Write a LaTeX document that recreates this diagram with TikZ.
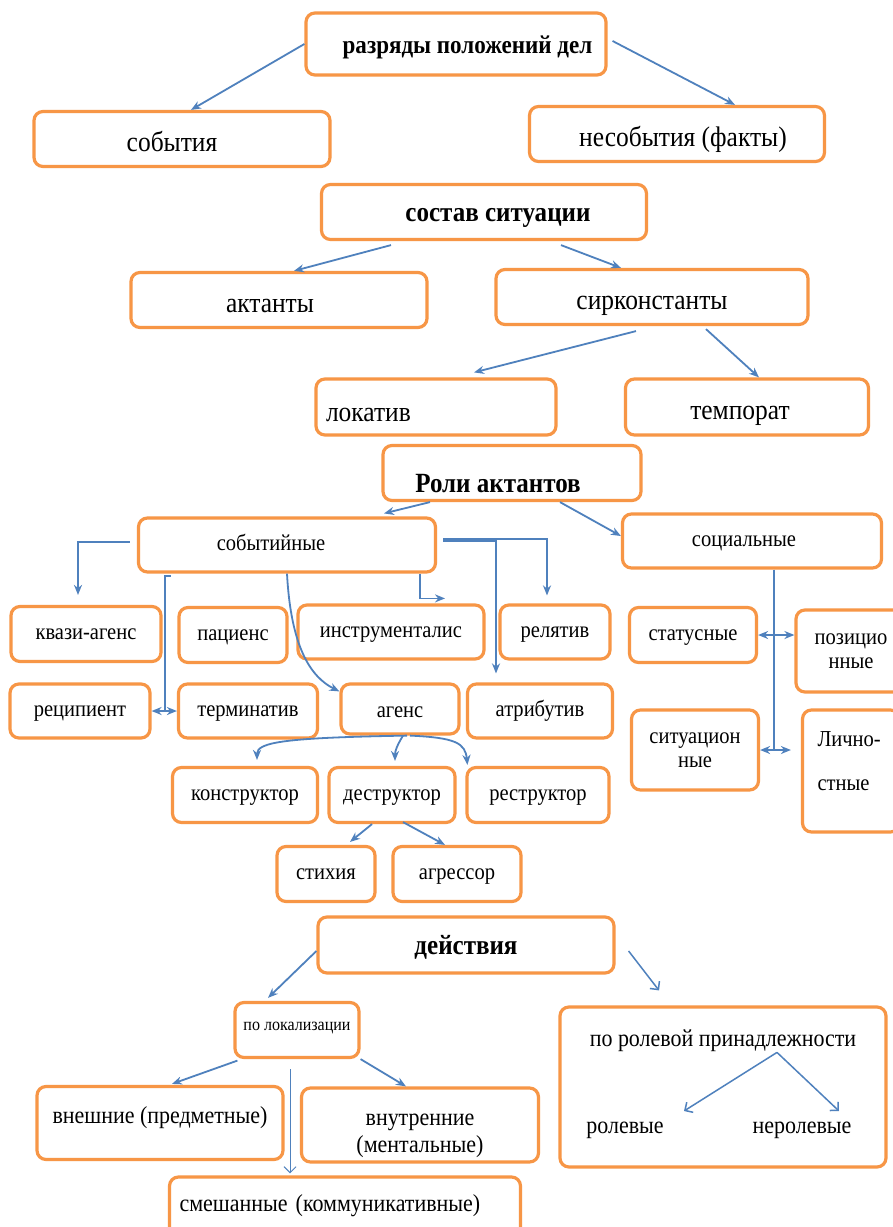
\documentclass[tikz,border=0pt]{standalone}
\usepackage{fontspec}
\setmainfont{Liberation Serif}[FakeStretch=0.9]
\usetikzlibrary{positioning}
\usetikzlibrary{arrows.meta}
\usetikzlibrary{calc}
\definecolor{boxorange}{RGB}{247,150,70}
\definecolor{arrowblue}{RGB}{79,129,189}
\begin{document}
\begin{tikzpicture}[x=1pt,y=-1pt,>={Stealth[length=10pt,width=8pt]},
    rolebox/.style={draw=boxorange,line width=3.2pt,rounded corners=9pt,fill=white,inner sep=2pt,align=center},
    sz/.style 2 args={minimum width=#1pt,minimum height=#2pt},
    bigtxt/.style={font=\fontsize{28.3}{33}\selectfont},
    ttl/.style={font=\bfseries\fontsize{27.8}{32}\selectfont},
    midtxt/.style={font=\fontsize{22.8}{24.5}\selectfont},
    lowtxt/.style={font=\fontsize{24.4}{27}\selectfont},
    smalltxt/.style={font=\fontsize{17.8}{20}\selectfont},
    bigone/.style={bigtxt,text height=29.7pt,text depth=5.7pt},
    ttlone/.style={ttl,text height=25.3pt,text depth=5.6pt},
    midone/.style={midtxt,text height=16pt,text depth=4.6pt},
    lowone/.style={lowtxt,text height=16.1pt,text depth=4.9pt},
    link/.style={->,draw=arrowblue,line width=1.8pt},
    openlink/.style={draw=arrowblue,line width=1.5pt,-{Straight Barb[length=6pt,width=12pt]}},
    every edge/.style={link}]
    \useasboundingbox (0,0) rectangle (893,1227);
    \fill[white] (0,0) rectangle (893,1227);
    \node[rolebox,ttlone,font=\bfseries\fontsize{25.6}{30}\selectfont,sz={300}{62}] (razr) at (456,44) {\hspace*{23pt}разряды положений дел};
    \node[rolebox,bigone,sz={296}{55}] (sobytiya) at (182,139) {\hspace*{-20pt}события};
    \node[rolebox,bigone,sz={295}{55}] (nesob) at (677,134) {\hspace*{12pt}несобытия (факты)};
    \node[rolebox,ttlone,sz={325}{55}] (sostav) at (484,212) {\hspace*{28pt}состав ситуации};
    \node[rolebox,bigone,sz={296}{55}] (aktant) at (279,300) {\hspace*{-18pt}актанты};
    \node[rolebox,bigone,sz={312}{55}] (sirk) at (652,297) {сирконстанты};
    \node[rolebox,bigtxt,sz={240}{56},text width=220pt,align=left,inner xsep=10pt,text height=29pt,text depth=0pt] (lokat) at (436,407) {локатив};
    \node[rolebox,bigone,sz={243}{56}] (tempor) at (747,407) {\hspace*{-14pt}темпорат};
    \node[rolebox,ttl,sz={258}{55},text height=39pt,text depth=0pt] (roli) at (512,473) {\hspace*{-28pt}Роли актантов};
    \node[rolebox,midone,sz={297}{54}] (sobytiyn) at (287,545) {\hspace*{-32pt}событийные};
    \node[rolebox,midone,sz={259}{54}] (socialn) at (752,541) {\hspace*{-16pt}социальные};
    \node[rolebox,midone,sz={150}{55}] (kvazi) at (86,634) {квази-агенс};
    \node[rolebox,midone,sz={108}{55}] (pacient) at (233,635) {пациенс};
    \node[rolebox,midone,sz={186}{54}] (instrum) at (391,632) {инструменталис};
    \node[rolebox,midone,sz={110}{54}] (relyat) at (555,632) {релятив};
    \node[rolebox,midone,sz={140}{54}] (recip) at (80,711) {реципиент};
    \node[rolebox,midone,sz={139}{54}] (termin) at (248,711) {терминатив};
    \node[rolebox,midone,sz={118}{50},text height=21pt] (agens) at (400,709) {агенс};
    \node[rolebox,midone,sz={145}{54}] (atrib) at (540,711) {атрибутив};
    \node[rolebox,midone,sz={145}{55}] (konstr) at (245,795) {конструктор};
    \node[rolebox,midone,sz={126}{55}] (destr) at (392,795) {деструктор};
    \node[rolebox,midone,sz={142}{55}] (restr) at (538,795) {реструктор};
    \node[rolebox,midone,sz={98}{55}] (stihia) at (326,874) {стихия};
    \node[rolebox,midone,sz={128}{55}] (agressor) at (457,874) {агрессор};
    \node[rolebox,midone,sz={127}{55}] (status) at (693,635) {статусные};
    \node[rolebox,midtxt,sz={110}{82}] (pozic) at (851,651) {позицио\\нные};
    \node[rolebox,midtxt,sz={127}{80}] (situac) at (695,750) {ситуацион\\ные};
    \node[rolebox,midtxt,sz={97}{122},text width=67pt,align=left,inner xsep=15pt,text depth=64pt] (lichn) at (851,771) {Лично-\\[19.5pt]стные};
    \node[rolebox,ttlone,sz={296}{56}] (deystv) at (466,945) {действия};
    \node[rolebox,smalltxt,sz={124}{55},text height=11.7pt,text depth=11.5pt] (lokaliz) at (297,1030) {по локализации};
    \node[rolebox,lowtxt,sz={326}{160},text height=16.1pt,text depth=97pt] (rolev) at (723,1087) {по ролевой принадлежности};
    \node[lowone,inner sep=0pt] (rolevye) at (625,1128) {ролевые};
    \node[lowone,inner sep=0pt] (nerolev) at (802,1128) {неролевые};
    \node[rolebox,lowtxt,sz={246}{73},text height=16.1pt,text depth=15pt] (vneshn) at (160,1123) {внешние (предметные)};
    \node[rolebox,lowtxt,sz={237}{74},text height=60pt,text depth=6pt] (vnutr) at (420,1125) {внутренние\\(ментальные)};
    \node[rolebox,lowtxt,sz={351}{66},text width=331pt,align=left,inner xsep=10pt,text height=16.1pt,text depth=13pt] (smesh) at (345,1210) {смешанные (коммуникативные)};
    \coordinate (vtop) at ([xshift=28pt]sobytiyn.south west);
    \coordinate (socdown) at ([xshift=22pt]socialn.south);
    \coordinate (lichnleft) at ([xshift=-10pt]lichn.west);
    \coordinate (fork) at ([xshift=54pt,yshift=-47pt]rolev.north);
    \path (razr.west) edge ([xshift=9pt]sobytiya.north)
          ([xshift=5pt,yshift=3pt]razr.east) edge ([xshift=58pt]nesob.north);
    \path ([xshift=-93pt,yshift=-4pt]sostav.south) edge ([xshift=15pt]aktant.north)
          ([xshift=77pt,yshift=-4pt]sostav.south) edge ([xshift=-31pt]sirk.north);
    \path ([xshift=-16pt,yshift=-5pt]sirk.south) edge ([xshift=38pt,yshift=5pt]lokat.north)
          ([xshift=54pt,yshift=-3pt]sirk.south) edge ([xshift=12pt]tempor.north);
    \path ([xshift=-82pt]roli.south) edge ([xshift=97pt,yshift=3pt]sobytiyn.north)
          ([xshift=48pt]roli.south) edge ([yshift=5pt]socialn.west);
    \draw[link] ([xshift=-7pt,yshift=3pt]sobytiyn.west) -| ([xshift=-8pt,yshift=10pt]kvazi.north);
    \draw[link,-] ([xshift=6pt,yshift=-2pt]vtop) -| (vtop |- termin.west);
    \draw[link,<->] (recip.east) -- (termin.west);
    \draw[link] (sobytiyn.south) .. controls +(4,75) and +(-28,-14) .. ([yshift=-9pt]agens.north west);
    \draw[link] ([xshift=-17pt]sobytiyn.south east) |- ([xshift=54pt,yshift=5pt]instrum.north);
    \draw[link] ([xshift=6pt,yshift=6pt]sobytiyn.east) -| ([xshift=-8pt,yshift=8pt]relyat.north);
    \draw[link] ([xshift=6pt,yshift=4pt]sobytiyn.east) -| ([xshift=-44pt,yshift=9pt]atrib.north);
    \draw[link,-] (socdown) -- (socdown |- situac.east);
    \draw[link,<->] (status.east) -- (status.east -| pozic.west);
    \draw[link,<->] (situac.east) -- (situac.east -| lichnleft);
    \draw[link] ([xshift=7pt]agens.south) .. controls +(-120,2) and +(0,-18) .. ([xshift=12pt,yshift=6pt]konstr.north);
    \draw[link] ([xshift=3pt]agens.south) .. controls +(-6,10) and +(0,-10) .. ([xshift=3pt,yshift=5pt]destr.north);
    \draw[link] ([xshift=10pt]agens.south) .. controls +(45,2) and +(-2,-22) .. ([xshift=2pt,yshift=1pt]restr.north west);
    \path ([xshift=-20pt]destr.south) edge ([xshift=24pt,yshift=3pt]stihia.north)
          ([xshift=11pt,yshift=2pt]destr.south) edge ([xshift=-12pt]agressor.north);
    \path ([yshift=-6pt]deystv.west) edge ([xshift=-29pt,yshift=3pt]lokaliz.north);
    \draw[openlink] ([xshift=13pt,yshift=-6pt]deystv.east) -- ([xshift=-64pt,yshift=15pt]rolev.north);
    \path ([xshift=4pt,yshift=-1.5pt]lokaliz.south west) edge ([xshift=12pt,yshift=1pt]vneshn.north)
          (lokaliz.south east) edge ([xshift=-14pt]vnutr.north);
    \draw[openlink,line width=1pt] ([xshift=-7pt,yshift=-10pt]lokaliz.south) -- ([xshift=-55pt,yshift=2pt]smesh.north);
    \path (fork) edge[openlink] ([xshift=59pt,yshift=17pt]rolevye.center)
                 edge[openlink] ([xshift=37pt,yshift=17pt]nerolev.center);
\end{tikzpicture}
\end{document}
